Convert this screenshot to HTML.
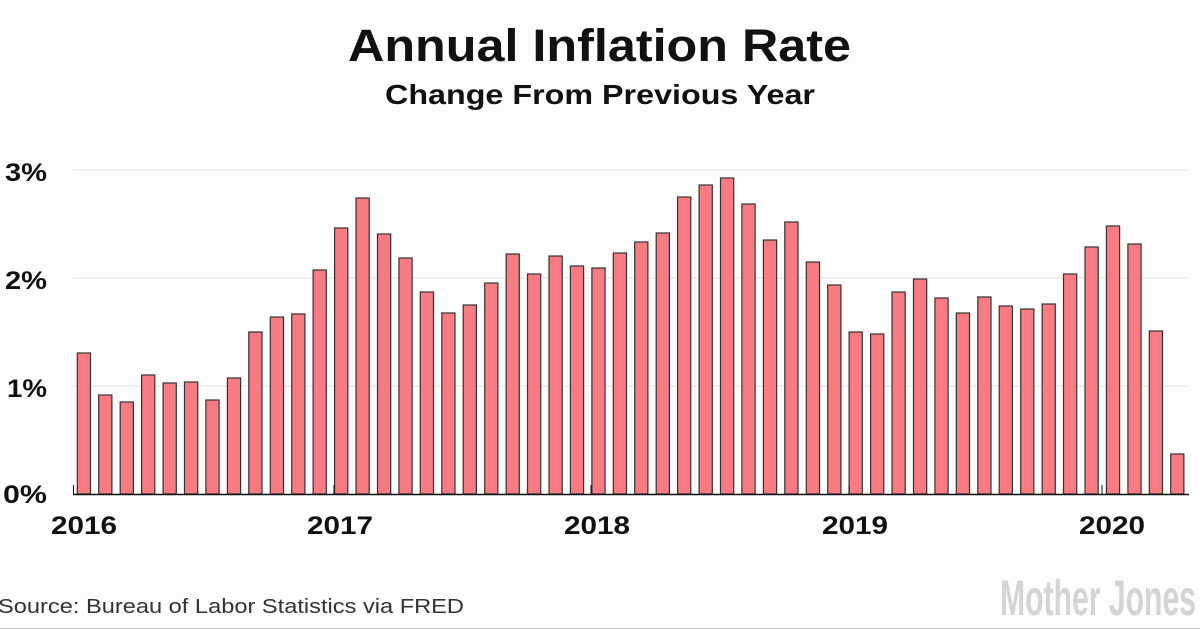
<!DOCTYPE html>
<html><head><meta charset="utf-8"><style>
body{margin:0;background:#fdfdfd;}
svg{display:block;font-family:"Liberation Sans",sans-serif;}
</style></head><body>
<svg width="1200" height="630" viewBox="0 0 1200 630" xmlns="http://www.w3.org/2000/svg">
<rect width="1200" height="630" fill="#fdfdfd"/>
<text x="348" y="61" font-size="45" font-weight="bold" fill="#111" textLength="503" lengthAdjust="spacingAndGlyphs">Annual Inflation Rate</text>
<text x="385" y="104" font-size="28" font-weight="bold" fill="#111" textLength="430" lengthAdjust="spacingAndGlyphs">Change From Previous Year</text>
<g stroke="#ececec" stroke-width="1.5">
<line x1="73" y1="170" x2="1189" y2="170"/>
<line x1="73" y1="278" x2="1189" y2="278"/>
<line x1="73" y1="386" x2="1189" y2="386"/>
</g>
<g font-size="25" font-weight="bold" fill="#111">
<text x="5" y="181" textLength="42" lengthAdjust="spacingAndGlyphs">3%</text>
<text x="5" y="289" textLength="42" lengthAdjust="spacingAndGlyphs">2%</text>
<text x="7" y="397" textLength="40" lengthAdjust="spacingAndGlyphs">1%</text>
<text x="3" y="503" textLength="44" lengthAdjust="spacingAndGlyphs">0%</text>
</g>
<g id="bars" fill="#f77b80" stroke="#333" stroke-width="1.2"></g>
<line x1="73" y1="494.5" x2="1189" y2="494.5" stroke="#111" stroke-width="1.5"/>
<line x1="73.5" y1="485" x2="73.5" y2="494" stroke="#111"/>
<g font-size="25" font-weight="bold" fill="#111">
<text x="51" y="534" textLength="66" lengthAdjust="spacingAndGlyphs">2016</text>
<text x="307" y="534" textLength="66" lengthAdjust="spacingAndGlyphs">2017</text>
<text x="564" y="534" textLength="66" lengthAdjust="spacingAndGlyphs">2018</text>
<text x="822" y="534" textLength="66" lengthAdjust="spacingAndGlyphs">2019</text>
<text x="1079" y="534" textLength="66" lengthAdjust="spacingAndGlyphs">2020</text>
</g>
<text x="-2" y="613" font-size="20" fill="#333" textLength="466" lengthAdjust="spacingAndGlyphs">Source: Bureau of Labor Statistics via FRED</text>
<text x="1000" y="615" font-size="50" font-weight="bold" fill="#d4d4d4" textLength="196" lengthAdjust="spacingAndGlyphs">Mother Jones</text>
<line x1="0" y1="628.5" x2="1200" y2="628.5" stroke="#ccc"/>
</svg>
<script>
var tops=[353,395,402,375,383,382,400,378,332,317,314,270,
228,198,234,258,292,313,305,283,254,274,256,266,
268,253,242,233,197,185,178,204,240,222,262,285,
332,334,292,279,298,313,297,306,309,304,274,247,
226,244,331,454];
var g=document.getElementById('bars'),ns='http://www.w3.org/2000/svg';
tops.forEach(function(t,i){var r=document.createElementNS(ns,'rect');
r.setAttribute('x',(77.3+i*21.44).toFixed(1));r.setAttribute('y',t);
r.setAttribute('width',13.2);r.setAttribute('height',494-t);g.appendChild(r);});
[334,591,849,1102].forEach(function(x){var l=document.createElementNS(ns,'line');
l.setAttribute('x1',x);l.setAttribute('x2',x);l.setAttribute('y1',485);l.setAttribute('y2',494);l.setAttribute('stroke','#111');g.parentNode.appendChild(l);});
</script>
</body></html>
